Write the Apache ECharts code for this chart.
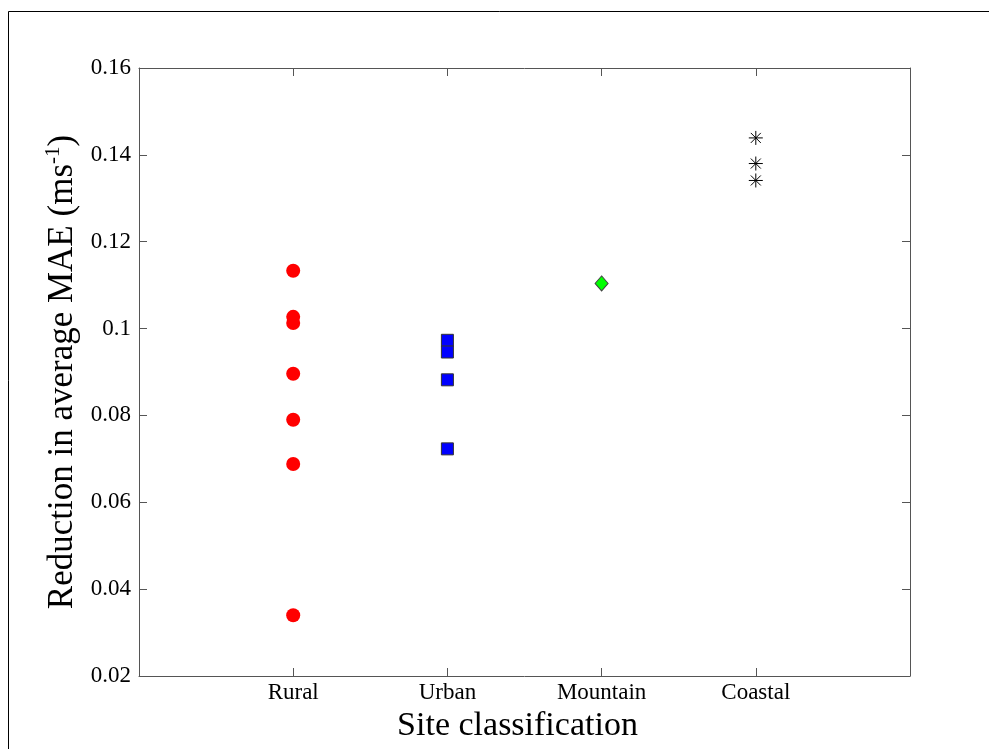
<!DOCTYPE html>
<html>
<head>
<meta charset="utf-8">
<script src="https://cdn.jsdelivr.net/npm/echarts@6/dist/echarts.min.js"></script>
<style>
  html, body { margin: 0; padding: 0; background: #fff; }
  #chart { width: 989px; height: 749px; }
</style>
</head>
<body>
<div id="chart"></div>
<script>
const categories = ['Rural', 'Urban', 'Mountain', 'Coastal']
const ruralValues = [0.1133, 0.1027, 0.1013, 0.0896, 0.0790, 0.0688, 0.0340]
const urbanValues = [0.0973, 0.0946, 0.0882, 0.0723]
const mountainValues = [0.1104]
const coastalValues = [0.1439, 0.1380, 0.1341]
const yTicks = { min: 0.02, max: 0.16, step: 0.02 }

const font = 'Liberation Serif'
const axisColor = '#555'

// x position is the category index starting at 1
const toPoints = (values, idx) => values.map(v => [idx + 1, v])

const asterisk = 'path://M7,0L7,14M0,7L14,7M2,2L12,12M2,12L12,2'

const chart = echarts.init(document.getElementById('chart'), null, { renderer: 'canvas' })

chart.setOption({
  animation: false,
  backgroundColor: '#fff',
  graphic: [{
    type: 'rect',
    shape: { x: 8.5, y: 11.5, width: 1100, height: 900 },
    style: { fill: 'none', stroke: '#000', lineWidth: 1 },
    silent: true
  }],
  grid: { left: 139, top: 68, right: 79, bottom: 73, containLabel: false },
  xAxis: [{
    type: 'value',
    min: 0,
    max: 5,
    interval: 1,
    position: 'bottom',
    name: 'Site classification',
    nameLocation: 'middle',
    nameGap: 22,
    nameTextStyle: { fontFamily: font, fontSize: 34, color: '#000', padding: [0, 14, 0, 0] },
    axisLine: { show: true, onZero: false, lineStyle: { color: axisColor, width: 1 } },
    axisTick: { show: true, inside: true, length: 8, lineStyle: { color: axisColor } },
    axisLabel: {
      fontFamily: font, fontSize: 23, color: '#000', margin: 5,
      formatter: v => categories[v - 1] || ''
    },
    splitLine: { show: false }
  }, {
    type: 'value',
    min: 0,
    max: 5,
    interval: 1,
    position: 'top',
    axisLine: { show: true, onZero: false, lineStyle: { color: axisColor, width: 1 } },
    axisTick: { show: true, inside: true, length: 8, lineStyle: { color: axisColor } },
    axisLabel: { show: false },
    splitLine: { show: false }
  }],
  yAxis: [{
    type: 'value',
    min: yTicks.min,
    max: yTicks.max,
    interval: yTicks.step,
    position: 'left',
    name: 'Reduction in average MAE (ms{sup|-1})',
    nameLocation: 'middle',
    nameGap: 55,
    nameTextStyle: {
      fontFamily: font, fontSize: 35, color: '#000',
      rich: {
        sup: { fontFamily: font, fontSize: 21, color: '#000', verticalAlign: 'top', padding: [0, 0, 18, 0] }
      }
    },
    axisLine: { show: true, onZero: false, lineStyle: { color: axisColor, width: 1 } },
    axisTick: { show: true, inside: true, length: 8, lineStyle: { color: axisColor } },
    axisLabel: {
      fontFamily: font, fontSize: 23, color: '#000', margin: 8,
      formatter: v => String(+v.toFixed(2))
    },
    splitLine: { show: false }
  }, {
    type: 'value',
    min: yTicks.min,
    max: yTicks.max,
    interval: yTicks.step,
    position: 'right',
    axisLine: { show: true, onZero: false, lineStyle: { color: axisColor, width: 1 } },
    axisTick: { show: true, inside: true, length: 8, lineStyle: { color: axisColor } },
    axisLabel: { show: false },
    splitLine: { show: false }
  }],
  series: [{
    name: categories[0],
    type: 'scatter',
    data: toPoints(ruralValues, 0),
    symbol: 'circle',
    symbolSize: 14,
    itemStyle: { color: '#ff0000', opacity: 1 }
  }, {
    name: categories[1],
    type: 'scatter',
    data: toPoints(urbanValues, 1),
    symbol: 'rect',
    symbolSize: 12,
    itemStyle: { color: '#0000ff', borderColor: '#333', borderWidth: 1, opacity: 1 }
  }, {
    name: categories[2],
    type: 'scatter',
    data: toPoints(mountainValues, 2),
    symbol: 'diamond',
    symbolSize: [13, 15],
    itemStyle: { color: '#00ff00', borderColor: '#444', borderWidth: 1, opacity: 1 }
  }, {
    name: categories[3],
    type: 'scatter',
    data: toPoints(coastalValues, 3),
    symbol: asterisk,
    symbolSize: 14,
    itemStyle: { color: 'none', borderColor: '#000', borderWidth: 1, opacity: 1 }
  }]
})
</script>
</body>
</html>
